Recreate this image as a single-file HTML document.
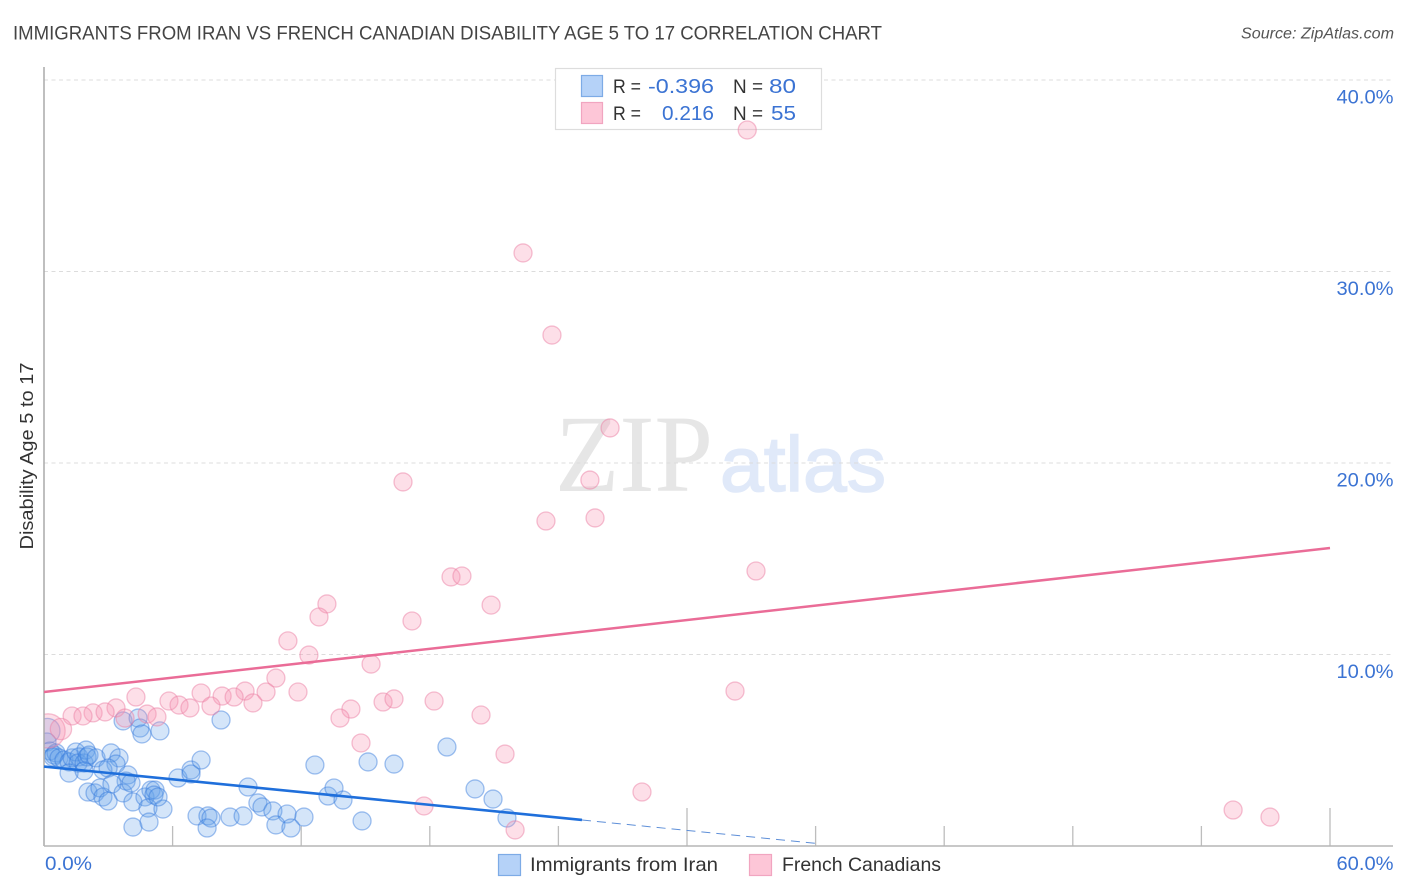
<!DOCTYPE html>
<html lang="en">
<head>
<meta charset="utf-8">
<title>Immigrants from Iran vs French Canadian Disability Age 5 to 17 Correlation Chart</title>
<style>
html,body{margin:0;padding:0;background:#fff;width:1406px;height:892px;overflow:hidden}
svg{display:block;font-family:"Liberation Sans",sans-serif}
</style>
</head>
<body>
<svg id="chart" width="1406" height="892" viewBox="0 0 1406 892" xmlns="http://www.w3.org/2000/svg">
  <text x="13" y="39.5" font-size="19.5" fill="#444" textLength="869" lengthAdjust="spacingAndGlyphs">IMMIGRANTS FROM IRAN VS FRENCH CANADIAN DISABILITY AGE 5 TO 17 CORRELATION CHART</text>
  <text x="1241" y="38.5" font-size="15.5" font-style="italic" fill="#555" textLength="153" lengthAdjust="spacingAndGlyphs">Source: ZipAtlas.com</text>

  <g>
    <text x="555" y="491" font-family="'Liberation Serif',serif" font-size="110" fill="#e6e6e6" textLength="158" lengthAdjust="spacingAndGlyphs">ZIP</text>
    <text x="720" y="491" font-size="78" fill="#e0e9f9" stroke="#e0e9f9" stroke-width="1.5" textLength="166" lengthAdjust="spacingAndGlyphs">atlas</text>
  </g>

  <g id="grid"></g>
  <g id="xticks"></g>
  <g id="ylabels"></g>
  <g id="xlabels"></g>
  <text transform="translate(33,456) rotate(-90)" text-anchor="middle" font-size="18" fill="#333" textLength="187" lengthAdjust="spacingAndGlyphs">Disability Age 5 to 17</text>

  <g>
    <rect x="555.5" y="68.5" width="266" height="61" fill="#fff" stroke="#ddd" stroke-width="1.2"/>
    <rect x="581.5" y="75.5" width="21" height="21" fill="#b5d2f8" stroke="#7dabe6" stroke-width="1.2"/>
    <rect x="581.5" y="102.5" width="21" height="21" fill="#fdc6d7" stroke="#f1a5c0" stroke-width="1.2"/>
    <text x="613" y="93" font-size="19.5" fill="#333" textLength="28" lengthAdjust="spacingAndGlyphs">R =</text>
    <text x="648" y="93" font-size="20.5" fill="#3b73d3" textLength="66" lengthAdjust="spacingAndGlyphs">-0.396</text>
    <text x="733" y="93" font-size="19.5" fill="#333" textLength="30" lengthAdjust="spacingAndGlyphs">N =</text>
    <text x="769" y="93" font-size="20.5" fill="#3b73d3" textLength="27" lengthAdjust="spacingAndGlyphs">80</text>
    <text x="613" y="120" font-size="19.5" fill="#333" textLength="28" lengthAdjust="spacingAndGlyphs">R =</text>
    <text x="662" y="120" font-size="20.5" fill="#3b73d3" textLength="52" lengthAdjust="spacingAndGlyphs">0.216</text>
    <text x="733" y="120" font-size="19.5" fill="#333" textLength="30" lengthAdjust="spacingAndGlyphs">N =</text>
    <text x="771" y="120" font-size="20.5" fill="#3b73d3" textLength="25" lengthAdjust="spacingAndGlyphs">55</text>
  </g>

  <g id="points-iran"></g>
  <g id="points-french"></g>
  <rect x="24" y="700" width="20" height="70" fill="#fff"/>
  <line x1="44" y1="67" x2="44" y2="846" stroke="#aaa" stroke-width="1.5"/>
  <line x1="44" y1="846" x2="1393" y2="846" stroke="#b5b5b5" stroke-width="1.5"/>
  <g id="trends"></g>

  <g>
    <rect x="498.5" y="854.5" width="22" height="21" fill="#b5d2f8" stroke="#7dabe6" stroke-width="1.2"/>
    <text x="530" y="871" font-size="19.5" fill="#333" textLength="188" lengthAdjust="spacingAndGlyphs">Immigrants from Iran</text>
    <rect x="749.5" y="854.5" width="22" height="21" fill="#fdc6d7" stroke="#f1a5c0" stroke-width="1.2"/>
    <text x="782" y="871" font-size="19.5" fill="#333" textLength="159" lengthAdjust="spacingAndGlyphs">French Canadians</text>
  </g>
</svg>
<script>
// ---- chart data (percent units) ----
var yGridValues = [10, 20, 30, 40];
var yTickLabels = ["10.0%", "20.0%", "30.0%", "40.0%"];
var xTickValues = [6, 12, 18, 24, 30, 36, 42, 48, 54, 60];
var xMajorTicks = [30, 60];
var xEndValues = [0, 60];
var xEndLabels = ["0.0%", "60.0%"];

var iranX = [0.16,0.14,0.28,0.47,0.56,0.42,0.70,0.93,1.17,1.31,1.49,1.63,1.59,1.87,1.96,2.01,2.10,2.43,3.13,3.50,
  3.36,2.75,1.17,1.87,2.99,3.92,3.83,2.05,2.38,2.61,2.75,3.17,2.99,3.69,4.06,4.15,4.71,4.99,5.18,5.13,
  4.85,5.55,5.32,4.15,4.90,6.25,6.86,6.86,7.33,7.14,7.65,7.79,7.61,8.68,9.29,9.52,9.98,10.17,10.68,11.34,
  12.13,10.82,11.52,12.64,15.12,13.25,13.53,13.95,14.84,16.33,18.80,20.11,20.95,21.60,8.26,3.69,4.39,4.48,4.57,5.41];
var iranY = [6.01,5.43,4.96,4.75,4.86,4.65,4.60,4.49,4.39,4.60,4.91,4.65,4.33,4.33,5.01,4.65,4.75,4.60,4.86,4.60,
  4.28,3.97,3.81,3.92,4.07,3.71,3.39,2.82,2.77,3.03,2.56,3.24,2.35,2.77,3.29,2.30,2.56,2.92,2.92,2.66,
  1.98,1.93,2.56,0.99,1.25,3.55,3.97,3.76,4.49,1.57,1.57,1.46,0.94,1.51,1.57,3.08,2.25,2.04,1.83,1.67,
  1.51,1.10,0.94,4.23,4.39,2.61,3.03,2.40,1.31,4.28,5.17,2.98,2.45,1.46,6.58,6.53,6.68,6.16,5.85,6.01];
// relative sample weight of each point (1 = ordinary point)
var iranWeight = [1.95];

var frenchX = [32.81,22.35,23.70,26.41,25.47,16.75,23.42,25.71,18.99,19.50,33.22,13.20,20.86,12.83,17.17,11.38,12.36,15.26,10.82,32.24,
  7.33,11.85,10.36,9.38,4.29,8.31,8.87,9.75,5.83,6.30,6.81,7.79,14.32,15.82,16.33,18.20,20.39,13.81,3.36,2.29,
  2.85,1.31,1.82,4.81,3.78,5.27,14.79,21.51,27.90,17.73,21.98,55.48,57.20,0.19,0.79];
var frenchY = [37.39,30.97,26.68,21.83,19.11,19.01,16.97,17.13,14.05,14.10,14.36,12.64,12.58,11.96,11.75,10.71,9.97,9.50,8.77,8.09,
  7.99,8.04,8.04,8.09,7.78,7.83,7.78,7.47,7.57,7.36,7.21,7.31,7.15,7.52,7.68,7.57,6.84,6.68,7.21,6.95,
  7.00,6.79,6.79,6.89,6.68,6.74,5.38,4.80,2.82,2.09,0.84,1.88,1.51,6.01,6.11];
var frenchBigWeights = [3.6, 1.4];

var iranTrendSolidX = [0, 25.1];
var iranTrendSolidY = [4.15, 1.36];
var iranTrendDashX = [25.1, 36];
var iranTrendDashY = [1.36, 0.14];
var frenchTrendX = [0, 60];
var frenchTrendY = [8.04, 15.56];

// ---- axis functions ----
function xScale(v) { return 44 + v * (1330 - 44) / 60; }
function yScale(v) { return 846 - v * (846 - 80) / 40; }
function rScale(w) { return 9 * Math.sqrt(w); }

var NS = "http://www.w3.org/2000/svg";
function make(tag, parent, attrs) {
  var el = document.createElementNS(NS, tag);
  for (var k in attrs) { el.setAttribute(k, attrs[k]); }
  parent.appendChild(el);
  return el;
}

// gridlines + y labels
var gridG = document.getElementById("grid");
var yLabG = document.getElementById("ylabels");
yGridValues.forEach(function (v, i) {
  var gl = make("line", gridG, { x1: 44, x2: 1393, y1: yScale(v), y2: yScale(v), stroke: "#dcdcdc", "stroke-width": 1, "stroke-dasharray": "4 3.5" });
  
  
  var lb = make("text", yLabG, { x: 1393.5, y: yScale(v) + 23.5, "text-anchor": "end", "font-size": 19.5, fill: "#3b73d3", textLength: 57, lengthAdjust: "spacingAndGlyphs" });
  lb.textContent = yTickLabels[i];
  
  
});

// x ticks
var tickG = document.getElementById("xticks");
xTickValues.forEach(function (v) {
  var major = xMajorTicks.indexOf(v) >= 0;
  var t = make("line", tickG, { x1: xScale(v), x2: xScale(v), y1: major ? 808 : 826, y2: 846, stroke: "#bdbdbd", "stroke-width": 1.3 });
  
  
});

// x end labels
var xLabG = document.getElementById("xlabels");
xEndValues.forEach(function (v, i) {
  var atEnd = i === 1;
  var lb = make("text", xLabG, { x: atEnd ? xScale(v) + 63.5 : xScale(v) + 1, y: 870, "text-anchor": atEnd ? "end" : "start", "font-size": 19.5, fill: "#3b73d3", textLength: atEnd ? 57 : 47, lengthAdjust: "spacingAndGlyphs" });
  lb.textContent = xEndLabels[i];
  
  
});

// points
var iranG = document.getElementById("points-iran");
iranX.forEach(function (v, i) {
  var w = i < iranWeight.length ? iranWeight[i] : 1;
  var c = make("circle", iranG, { cx: xScale(v), cy: yScale(iranY[i]), r: rScale(w), fill: "rgba(100,160,235,0.28)", stroke: "rgba(50,120,220,0.45)", "stroke-width": 1.3 });
  
  
});
var frenchG = document.getElementById("points-french");
var bigStart = frenchX.length - frenchBigWeights.length;
frenchX.forEach(function (v, i) {
  var w = i >= bigStart ? frenchBigWeights[i - bigStart] : 1;
  var c = make("circle", frenchG, { cx: xScale(v), cy: yScale(frenchY[i]), r: rScale(w), fill: "rgba(248,150,180,0.3)", stroke: "rgba(235,130,165,0.5)", "stroke-width": 1.3 });
  
  
});

// trends
var trendG = document.getElementById("trends");
var l1 = make("line", trendG, { x1: xScale(frenchTrendX[0]), y1: yScale(frenchTrendY[0]), x2: xScale(frenchTrendX[1]), y2: yScale(frenchTrendY[1]), stroke: "#ea6c97", "stroke-width": 2.5 });


var l2 = make("line", trendG, { x1: xScale(iranTrendSolidX[0]), y1: yScale(iranTrendSolidY[0]), x2: xScale(iranTrendSolidX[1]), y2: yScale(iranTrendSolidY[1]), stroke: "#1f6fdb", "stroke-width": 2.6 });


var l3 = make("line", trendG, { x1: xScale(iranTrendDashX[0]), y1: yScale(iranTrendDashY[0]), x2: xScale(iranTrendDashX[1]), y2: yScale(iranTrendDashY[1]), stroke: "#5e8fd8", "stroke-width": 1, "stroke-dasharray": "9 6" });


</script>
</body>
</html>
